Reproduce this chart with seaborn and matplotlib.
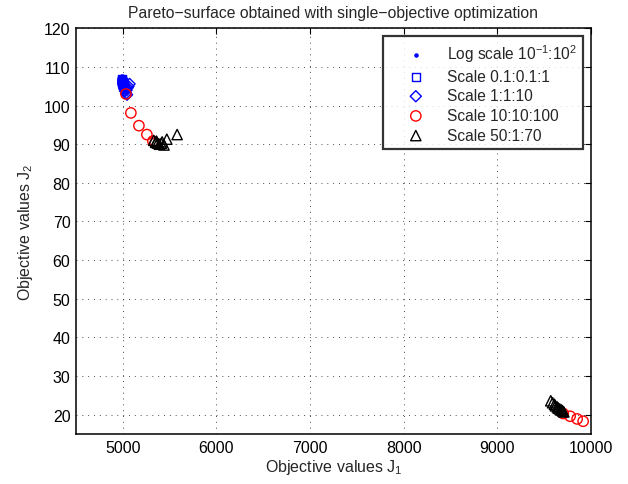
import matplotlib
matplotlib.use("Agg")
import matplotlib.pyplot as plt
import seaborn as sns
import pandas as pd

# ---- data ----
log_j1 = [4988, 4990, 4992, 4994, 4996, 4998, 5000, 5002, 5004, 5006,
          4990, 4993, 4996, 4999, 5002, 5005, 5008, 5011, 4995, 4998,
          5001, 5004, 5007, 5010, 5013, 4987, 4991, 5000, 5009, 5014]
log_j2 = [107.0, 106.8, 106.6, 106.4, 106.2, 106.0, 105.8, 105.6, 105.4, 105.2,
          106.2, 106.0, 105.8, 105.6, 105.4, 105.2, 105.0, 104.8, 105.3, 105.1,
          104.9, 104.7, 104.6, 104.5, 104.4, 106.4, 105.8, 106.4, 105.6, 105.2]

sq_j1 = [4991, 4993, 4995, 4998, 5000, 5003, 5006, 5009, 5012, 5015]
sq_j2 = [106.8, 106.6, 106.3, 106.0, 105.8, 105.6, 105.4, 105.2, 105.0, 104.8]

dia_j1 = [5015, 5020, 5025, 5030, 5035, 5040, 5045, 5050, 5060, 5072]
dia_j2 = [105.2, 104.8, 103.8, 104.4, 103.2, 104.0, 102.8, 104.6, 105.0, 105.6]

circ_j1 = [5033, 5086, 5172, 5257, 5321, 5345, 9703, 9777, 9852, 9916]
circ_j2 = [103.0, 98.1, 94.8, 92.5, 90.8, 90.3, 20.3, 19.6, 18.9, 18.3]

tri_j1 = [5330, 5350, 5360, 5370, 5390, 5410, 5420, 5440, 5470, 5580,
          9570, 9590, 9610, 9620, 9640, 9650, 9665, 9680, 9690, 9700, 9710]
tri_j2 = [91.0, 90.5, 90.8, 90.3, 90.0, 90.2, 90.6, 89.8, 91.3, 92.5,
          23.6, 23.1, 22.7, 22.3, 22.0, 21.7, 21.5, 21.3, 21.1, 20.9, 20.7]

labels = ["Log scale $10^{-1}$:$10^{2}$", "Scale 0.1:0.1:1", "Scale 1:1:10",
          "Scale 10:10:100", "Scale 50:1:70"]

x_ticks = [5000, 6000, 7000, 8000, 9000, 10000]
y_ticks = list(range(20, 121, 10))

# ---- style ----
sns.set_style("white")
plt.rcParams['font.family'] = ['Liberation Sans', 'DejaVu Sans']
plt.rcParams['mathtext.fontset'] = 'custom'
plt.rcParams['mathtext.rm'] = 'Liberation Sans'
plt.rcParams['mathtext.it'] = 'Liberation Sans'
plt.rcParams['mathtext.bf'] = 'Liberation Sans'

fig = plt.figure(figsize=(6.28, 4.85), dpi=100)
ax = fig.add_axes([76 / 628, 1 - 435 / 485, 515 / 628, (435 - 29.3) / 485])

series = [
    (log_j1, log_j2, 'o', 'blue', 'blue', 38),
    (sq_j1, sq_j2, 's', 'none', 'blue', 32),
    (dia_j1, dia_j2, 'D', 'none', 'blue', 32),
    (circ_j1, circ_j2, 'o', 'none', 'red', 55),
    (tri_j1, tri_j2, '^', 'none', 'black', 55),
]
for (xs, ys, m, fc, ec, s), lab in zip(series, labels):
    df = pd.DataFrame({"J1": xs, "J2": ys})
    sns.scatterplot(data=df, x="J1", y="J2", marker=m, s=s,
                    facecolors=fc, edgecolors=ec, color=ec,
                    linewidths=1.0, label=lab, ax=ax, zorder=3)

ax.set_xlim(4500, 10000)
ax.set_ylim(15, 120)
ax.set_xticks(x_ticks)
ax.set_yticks(y_ticks)
ax.grid(True, linestyle=(0, (1, 5)), color='black', linewidth=0.7, alpha=0.7)
ax.tick_params(direction='in', top=True, right=True, length=4, labelsize=11.5,
               colors='black', pad=4)
for sp in ax.spines.values():
    sp.set_color('black')
    sp.set_linewidth(1.1)

ax.set_xlabel("Objective values J$_1$", fontsize=11.5, labelpad=2)
ax.set_ylabel("Objective values J$_2$", fontsize=11.5, labelpad=6)
ax.set_title("Pareto\u2212surface obtained with single\u2212objective optimization",
             fontsize=11.3, pad=8)

leg = ax.legend(loc='upper right', fontsize=11.2, frameon=True, fancybox=False,
                borderpad=0.4, labelspacing=0.3, handletextpad=0.3,
                borderaxespad=0.5, handlelength=3.4)
leg.get_frame().set_edgecolor('black')
leg.get_frame().set_linewidth(1.6)
leg.legend_handles[0].set_sizes([5])

fig.savefig("out.png", dpi=100)
